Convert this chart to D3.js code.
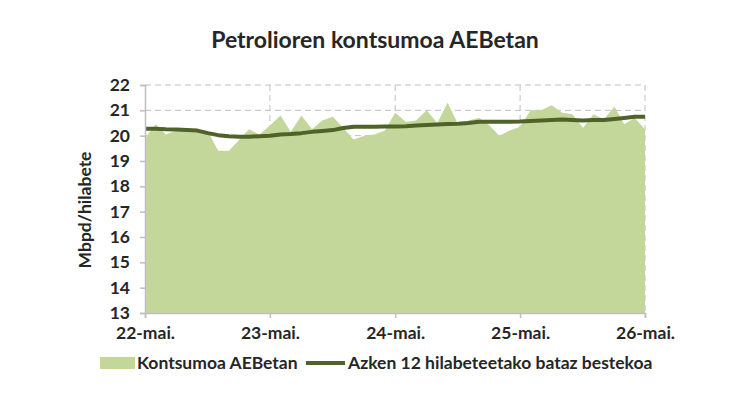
<!DOCTYPE html>
<html>
<head>
<meta charset="utf-8">
<script src="https://cdn.jsdelivr.net/npm/d3@7"></script>
<style>
	body { margin: 0; background: #fff; }
	text { font-family: Lato, "DejaVu Sans", sans-serif; fill: #262626; }
</style>
</head>
<body>
<div id="chart"></div>
<script>

///////////////////////////////////////////////////////////////////////
// data, monthly from May 2022

const start_month = new Date( 2022, 4, 1 );

const consumption = [
	19.9, 20.45, 20.05, 20.2, 20.2, 20.15, 20.15, 19.4, 19.4, 19.85,
	20.25, 20.05, 20.4, 20.8, 20.15, 20.8, 20.25, 20.6, 20.75, 20.3,
	19.85, 20.0, 20.05, 20.2, 20.9, 20.55, 20.6, 21.0, 20.5, 21.3,
	20.45, 20.6, 20.7, 20.4, 20.0, 20.2, 20.35, 21.0, 21.0, 21.2,
	20.9, 20.85, 20.3, 20.85, 20.65, 21.15, 20.45, 20.7, 20.25
];

const avg_12m = [
	20.27, 20.27, 20.25, 20.24, 20.22, 20.2, 20.1, 20.02, 19.98, 19.96,
	19.96, 19.98, 20.0, 20.05, 20.07, 20.1, 20.15, 20.18, 20.22, 20.3,
	20.35, 20.35, 20.35, 20.36, 20.36, 20.37, 20.4, 20.42, 20.44, 20.46,
	20.47, 20.5, 20.55, 20.55, 20.55, 20.55, 20.56, 20.58, 20.6, 20.62,
	20.64, 20.62, 20.6, 20.62, 20.62, 20.66, 20.7, 20.75, 20.75
];

const x_tick_labels = [ "22-mai.", "23-mai.", "24-mai.", "25-mai.", "26-mai." ];
const y_ticks = [ 13, 14, 15, 16, 17, 18, 19, 20, 21, 22 ];

const title = "Petrolioren kontsumoa AEBetan";
const y_title = "Mbpd/hilabete";
const legend_names = [ "Kontsumoa AEBetan", "Azken 12 hilabeteetako bataz bestekoa" ];

///////////////////////////////////////////////////////////////////////

const W = 750, H = 400;
const M = { left: 145, right: 105, top: 85, bottom: 87 };

const area_col = "#c4d79b";
const line_col = "#4f6228";
const grid_col = "#bfbfbf";
const font_px = "17.5px";

const months = consumption.map( ( v, i ) => new Date( 2022, 4 + i, 1 ) );
const x_ticks = x_tick_labels.map( ( s, i ) => new Date( 2022 + i, 4, 1 ) );

const svg = d3.select( "#chart" )
	.append( "svg" )
		.attr( "width", W )
		.attr( "height", H );

const x = d3.scaleTime()
	.domain( [ start_month, new Date( 2026, 4, 1 ) ] )
	.range( [ M.left, W - M.right ] );

const y = d3.scaleLinear()
	.domain( [ 13, 22 ] )
	.range( [ H - M.bottom, M.top ] );

// grid, dashed, hidden under the area
svg.append( "g" )
	.selectAll( "line" )
	.data( y_ticks.slice( 1 ) )
	.join( "line" )
		.attr( "x1", M.left )
		.attr( "x2", W - M.right )
		.attr( "y1", d => y( d ) )
		.attr( "y2", d => y( d ) )
		.attr( "stroke", grid_col )
		.attr( "stroke-width", 1 )
		.attr( "stroke-dasharray", "6,4" );

svg.append( "g" )
	.selectAll( "line" )
	.data( x_ticks.slice( 1 ) )
	.join( "line" )
		.attr( "x1", d => x( d ) )
		.attr( "x2", d => x( d ) )
		.attr( "y1", M.top )
		.attr( "y2", H - M.bottom )
		.attr( "stroke", grid_col )
		.attr( "stroke-width", 1 )
		.attr( "stroke-dasharray", "6,4" );

// area
const area = d3.area()
	.x( ( d, i ) => x( months[ i ] ) )
	.y0( y( 13 ) )
	.y1( d => y( d ) );

svg.append( "path" )
	.datum( consumption )
	.attr( "d", area )
	.attr( "fill", area_col );

const line = d3.line()
	.x( ( d, i ) => x( months[ i ] ) )
	.y( d => y( d ) );

svg.append( "path" )
	.datum( avg_12m )
	.attr( "d", line )
	.attr( "fill", "none" )
	.attr( "stroke", line_col )
	.attr( "stroke-width", 4 )
	.attr( "stroke-linejoin", "round" );

// axes
const y_axis = svg.append( "g" )
	.attr( "transform", "translate(" + M.left + ",0)" )
	.call(
		d3.axisLeft( y )
			.tickValues( y_ticks )
			.tickSize( 5 )
			.tickPadding( 10 )
			.tickFormat( d3.format( "d" ) )
	);

const x_axis = svg.append( "g" )
	.attr( "transform", "translate(0," + ( H - M.bottom ) + ")" )
	.call(
		d3.axisBottom( x )
			.tickValues( x_ticks )
			.tickSize( 5 )
			.tickPadding( 9 )
			.tickFormat( ( d, i ) => x_tick_labels[ i ] )
	);

[ y_axis, x_axis ].forEach( a => {
	a.select( ".domain" ).attr( "stroke", grid_col ).attr( "stroke-width", 1.5 );
	a.selectAll( ".tick line" ).attr( "stroke", grid_col ).attr( "stroke-width", 1.5 );
	a.selectAll( "text" )
		.style( "font-family", "Lato, sans-serif" )
		.style( "font-size", font_px )
		.style( "font-weight", "bold" )
		.attr( "fill", "#262626" );
} );

// titles
svg.append( "text" )
	.attr( "x", 375 )
	.attr( "y", 48 )
	.attr( "text-anchor", "middle" )
	.style( "font-size", "23px" )
	.style( "font-weight", "bold" )
	.text( title );

svg.append( "text" )
	.attr( "transform", "translate(91,210) rotate(-90)" )
	.attr( "text-anchor", "middle" )
	.style( "font-size", font_px )
	.style( "font-weight", "bold" )
	.text( y_title );

// legend
const leg = svg.append( "g" )
	.attr( "transform", "translate(0,363)" );

leg.append( "rect" )
	.attr( "x", 100 )
	.attr( "y", -6 )
	.attr( "width", 35 )
	.attr( "height", 12 )
	.attr( "fill", area_col );

leg.append( "text" )
	.attr( "x", 137 )
	.attr( "y", 6 )
	.style( "font-size", font_px )
	.style( "font-weight", "bold" )
	.text( legend_names[ 0 ] );

leg.append( "line" )
	.attr( "x1", 306 )
	.attr( "x2", 345 )
	.attr( "y1", 0 )
	.attr( "y2", 0 )
	.attr( "stroke", line_col )
	.attr( "stroke-width", 4 );

leg.append( "text" )
	.attr( "x", 348 )
	.attr( "y", 6 )
	.style( "font-size", font_px )
	.style( "font-weight", "bold" )
	.text( legend_names[ 1 ] );

</script>
</body>
</html>
